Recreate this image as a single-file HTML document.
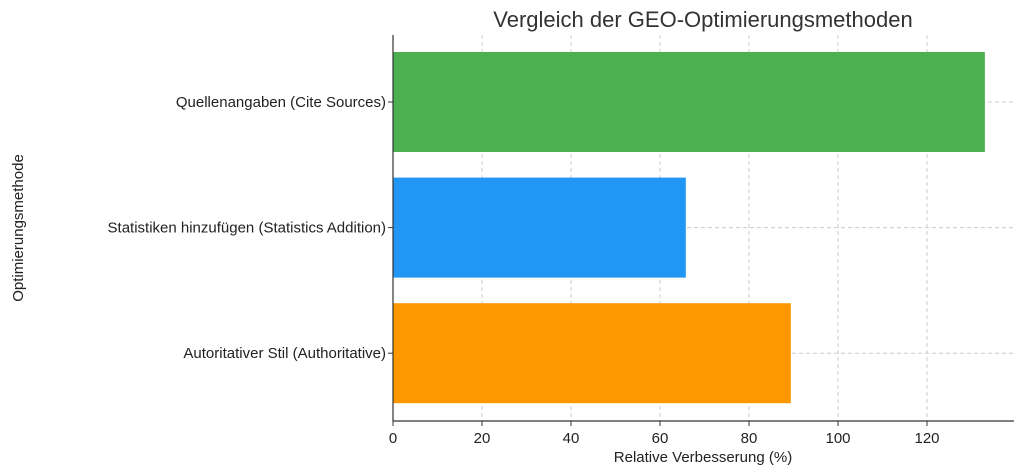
<!DOCTYPE html>
<html><head><meta charset="utf-8"><style>
html,body{margin:0;padding:0;background:#fff;}
svg{display:block;font-family:"Liberation Sans","DejaVu Sans",sans-serif;}
</style></head><body>
<svg id="chart" width="1024" height="475" viewBox="0 0 1024 475">
<text x="703" y="27" font-size="22" fill="#333" text-anchor="middle">Vergleich der GEO-Optimierungsmethoden</text>
<g id="grid"></g><g id="bars"></g><g id="axes"></g>
<text x="703" y="462" font-size="15" fill="#222" text-anchor="middle">Relative Verbesserung (%)</text>
<text transform="translate(23,228) rotate(-90)" font-size="15" fill="#222" text-anchor="middle">Optimierungsmethode</text>
</svg>
<script>
const categories = ["Quellenangaben (Cite Sources)","Statistiken hinzufügen (Statistics Addition)","Autoritativer Stil (Authoritative)"];
const values = [133, 65.8, 89.4];
const colors = ["#4caf50","#2196f3","#ff9800"];
const xTicks = [0,20,40,60,80,100,120];
const NS="http://www.w3.org/2000/svg";
const L=393,R=1014,T=35,B=421;
const x=v=>L+v*4.45;
const y=i=>T+67+i*125.6;
const bh=100;
function mk(tag,attrs,parent){const e=document.createElementNS(NS,tag);for(const k in attrs)e.setAttribute(k,attrs[k]);parent.appendChild(e);return e;}
const grid=document.getElementById('grid'),bars=document.getElementById('bars'),axes=document.getElementById('axes');
xTicks.forEach(t=>{
  const g=mk('line',{x1:x(t),x2:x(t),y1:T,y2:B,stroke:'#ccc','stroke-dasharray':'4,3','stroke-width':1},grid);
  
  
  const tk=mk('line',{x1:x(t),x2:x(t),y1:B,y2:B+5,stroke:'#333'},axes);
  
  
  const lb=mk('text',{x:x(t),y:B+22,'font-size':15,fill:'#222','text-anchor':'middle'},axes);
  lb.textContent=t;
  
  
});
categories.forEach((c,i)=>{
  const g=mk('line',{x1:L,x2:R,y1:y(i),y2:y(i),stroke:'#ccc','stroke-dasharray':'4,3'},grid);
  
  
  const r=mk('rect',{x:L,y:y(i)-bh/2,width:x(values[i])-L,height:bh,fill:colors[i]},bars);
  
  
  const tk=mk('line',{x1:L-5,x2:L,y1:y(i),y2:y(i),stroke:'#333'},axes);
  
  
  const lb=mk('text',{x:L-7,y:y(i)+5,'font-size':15,fill:'#222','text-anchor':'end'},axes);
  lb.textContent=c;
  
  
});
const ax=mk('line',{x1:L,x2:L,y1:T,y2:B,stroke:'#333','stroke-width':1.2},axes);


const bx=mk('line',{x1:L,x2:R,y1:B,y2:B,stroke:'#333','stroke-width':1.2},axes);


</script>
</body></html>
